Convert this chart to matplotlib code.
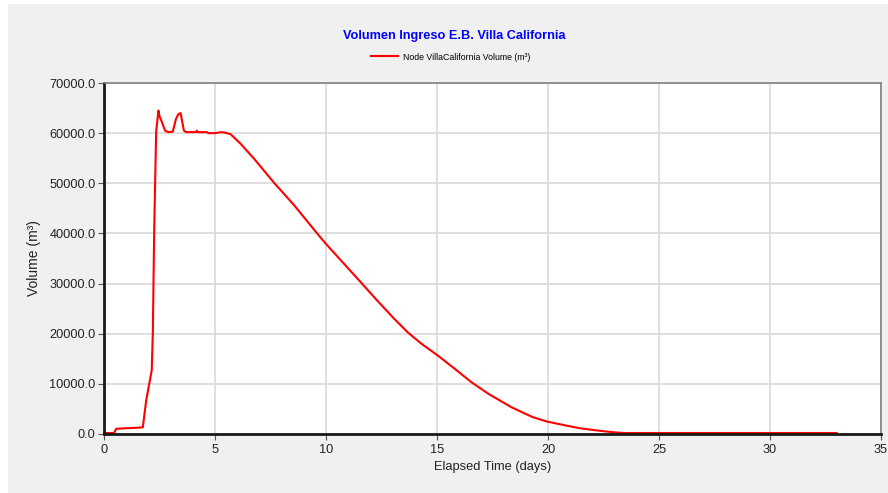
import matplotlib
matplotlib.use("Agg")
import matplotlib.pyplot as plt
from matplotlib.patches import Rectangle
from matplotlib.ticker import FormatStrFormatter
from matplotlib.transforms import offset_copy

plt.rcParams['font.family'] = ['Liberation Sans', 'DejaVu Sans']

title = "Volumen Ingreso E.B. Villa California"
series_label = "Node VillaCalifornia Volume (m³)"
x_label = "Elapsed Time (days)"
y_label = "Volume (m³)"

days = [0.0, 0.45, 0.55, 1.0, 1.5, 1.75, 1.9, 2.15, 2.2, 2.26, 2.35, 2.45, 2.5,
        2.6, 2.75, 2.9, 3.1, 3.24, 3.35, 3.45, 3.5, 3.6, 3.7, 4.15, 4.18, 4.22,
        4.65, 4.7, 5.0, 5.3, 5.45, 5.7, 6.15, 6.76, 7.66, 8.57, 9.62, 10.0,
        11.58, 12.33, 13.09, 13.7, 14.3, 15.02, 15.8, 16.56, 17.32, 18.37,
        19.29, 19.94, 20.78, 21.44, 22.29, 22.94, 23.4, 28.0, 33.0]
volume = [0, 0, 850, 950, 1050, 1150, 6470, 12500, 20100, 40100, 60100, 64300,
          63200, 62100, 60300, 60000, 60100, 62600, 63600, 63800, 62600, 60300,
          60000, 60000, 60300, 60000, 60000, 59800, 59800, 60000, 59900, 59600,
          57700, 54700, 49900, 45400, 39700, 37700, 30000, 26300, 22700, 20000,
          17800, 15500, 12800, 10100, 7800, 5100, 3200, 2300, 1520, 950, 460,
          150, 0, 0, 0]

x_ticks = [0, 5, 10, 15, 20, 25, 30, 35]
y_ticks = [0, 10000, 20000, 30000, 40000, 50000, 60000, 70000]

fig = plt.figure(figsize=(8.88, 4.93), dpi=100, facecolor='white')
fig.patches.append(Rectangle((8 / 888, 0), 1, (493 - 4) / 493, transform=fig.transFigure,
                             facecolor='#f0f0f0', edgecolor='none', zorder=-10))

ax = fig.add_axes([104 / 888, 1 - 434 / 493, (881 - 104) / 888, (434 - 83) / 493])
ax.set_facecolor('white')
shifted = offset_copy(ax.transData, fig=fig, x=0, y=1.0, units='dots')
line, = ax.plot(days, volume, color='#ff0000', lw=1.5, label=series_label,
                zorder=2.2, transform=shifted, clip_on=False)

ax.set_xlim(0, 35)
ax.set_ylim(0, 70000)
ax.set_xticks(x_ticks)
ax.set_yticks(y_ticks)
ax.yaxis.set_major_formatter(FormatStrFormatter('%.1f'))
ax.grid(True, color='#d9d9d9', lw=1.2, zorder=0)
ax.set_axisbelow(True)

for s in ['left', 'bottom']:
    ax.spines[s].set_color('#1a1a1a')
    ax.spines[s].set_linewidth(2.0)
for s in ['top', 'right']:
    ax.spines[s].set_color('#808080')
    ax.spines[s].set_linewidth(1.2)

ax.tick_params(axis='both', labelsize=9.2, colors='#555555', length=4, width=0.8,
               labelcolor='#222222', pad=2)
ax.tick_params(axis='x', pad=3)

ax.set_xlabel(x_label, fontsize=9.3, color='#222222', labelpad=4)
ax.set_ylabel(y_label, fontsize=10, color='#222222', labelpad=6)

fig.text(454 / 888, 1 - 36 / 493, title, ha='center', va='center', fontsize=9.2,
         fontweight='bold', color='#0000ff')
fig.legend(handles=[line], loc='center', bbox_to_anchor=(451 / 888, 1 - 57 / 493),
           frameon=False, fontsize=6.3, handlelength=3.1, handletextpad=0.55)

fig.savefig('out.png', dpi=100, facecolor=fig.get_facecolor())
